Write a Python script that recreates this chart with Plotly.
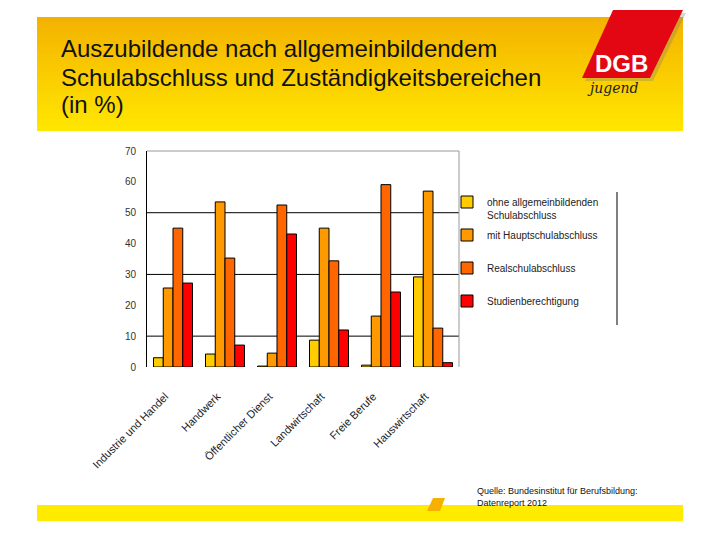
import plotly.graph_objects as go

categories = ["Industrie und Handel", "Handwerk", "Öffentlicher Dienst",
              "Landwirtschaft", "Freie Berufe", "Hauswirtschaft"]
series_names = ["ohne allgemeinbildenden<br>Schulabschluss", "mit Hauptschulabschluss<br>\u00a0",
                "Realschulabschluss<br>\u00a0", "Studienberechtigung<br>\u00a0"]
ohne = [3.0, 4.2, 0.3, 8.7, 0.6, 29.2]
haupt = [25.6, 53.5, 4.5, 45.0, 16.5, 57.0]
real = [45.0, 35.3, 52.5, 34.4, 59.1, 12.6]
studien = [27.2, 7.1, 43.1, 12.0, 24.3, 1.4]
y_ticks = [0, 10, 20, 30, 40, 50, 60, 70]
colors = ["#FFCC00", "#FF9900", "#FF6600", "#FF0000"]

OFF = 8  # page body margin
W, H = 720 - OFF, 540 - OFF
# plot area in page pixels
PL, PR, PT, PB = 147, 459, 151, 367
L, R, T, B = PL - OFF, PR - OFF, PT - OFF, PB - OFF


def px(x):
    return (x - PL) / (PR - PL)


def py(y):
    return (PB - y) / (PB - PT)


fig = go.Figure()
for i, (name, vals) in enumerate(zip(series_names, [ohne, haupt, real, studien])):
    fig.add_trace(go.Bar(
        x=categories, y=vals, name=name, legendgroup=f"g{i}",
        marker=dict(color=colors[i], line=dict(color="black", width=1)),
    ))

shapes = []
# banner gradient
top_c = (244, 178, 0)
bot_c = (255, 230, 0)
n = 38
y0, y1 = 17, 131
for k in range(n):
    t = k / (n - 1)
    c = tuple(int(round(a + (b - a) * t)) for a, b in zip(top_c, bot_c))
    ya = y0 + (y1 - y0) * k / n
    yb = min(y1, y0 + (y1 - y0) * (k + 1) / n + 0.6)
    shapes.append(dict(type="rect", xref="paper", yref="paper",
                       x0=px(37), x1=px(683), y0=py(yb), y1=py(ya),
                       fillcolor="rgb(%d,%d,%d)" % c, line=dict(width=0), layer="below"))
# logo shadow + red parallelogram
shapes.append(dict(type="path", xref="paper", yref="paper",
                   path="M %f %f L %f %f L %f %f L %f %f Z" % (
                       px(616), py(13), px(686), py(13), px(653), py(81), px(585), py(81)),
                   fillcolor="rgba(120,120,120,0.3)", line=dict(width=0), layer="below"))
shapes.append(dict(type="path", xref="paper", yref="paper",
                   path="M %f %f L %f %f L %f %f L %f %f Z" % (
                       px(613), py(10), px(683), py(10), px(650), py(78), px(582), py(78)),
                   fillcolor="#E30613", line=dict(width=0), layer="below"))
# bottom yellow bar + small orange parallelogram
shapes.append(dict(type="rect", xref="paper", yref="paper",
                   x0=px(37), x1=px(683), y0=py(521), y1=py(505),
                   fillcolor="#FFEB00", line=dict(width=0), layer="below"))
shapes.append(dict(type="path", xref="paper", yref="paper",
                   path="M %f %f L %f %f L %f %f L %f %f Z" % (
                       px(433), py(498), px(445), py(498), px(440), py(511), px(427), py(511)),
                   fillcolor="#F5B000", line=dict(width=0), layer="below"))
# gridlines at 10, 30, 50
for gv in [10, 30, 50]:
    shapes.append(dict(type="line", xref="paper", yref="y", x0=0, x1=1, y0=gv, y1=gv,
                       line=dict(color="black", width=1), layer="below"))
# plot frame top & right (gray)
shapes.append(dict(type="line", xref="paper", yref="paper", x0=0, x1=1, y0=1, y1=1,
                   line=dict(color="#999999", width=1)))
shapes.append(dict(type="line", xref="paper", yref="paper", x0=1, x1=1, y0=0, y1=1,
                   line=dict(color="#999999", width=1)))
# legend right border
shapes.append(dict(type="line", xref="paper", yref="paper", x0=px(617), x1=px(617),
                   y0=py(325), y1=py(192), line=dict(color="black", width=1)))

title_lines = ["Auszubildende nach allgemeinbildendem",
               "Schulabschluss und Zuständigkeitsbereichen",
               "(in %)"]
title_y = [49, 77, 105]
annotations = []
for txt, yy in zip(title_lines, title_y):
    annotations.append(dict(text=txt, xref="paper", yref="paper", x=px(59), y=py(yy),
                            xanchor="left", yanchor="middle", align="left", showarrow=False,
                            font=dict(family="Liberation Sans, Arial", size=24, color="#111111")))
annotations += [
    dict(text="<b>DGB</b>", xref="paper", yref="paper", x=px(621), y=py(63),
         xanchor="center", yanchor="middle", showarrow=False,
         font=dict(family="Liberation Sans, Arial", size=24, color="white")),
    dict(text="<i>jugend</i>", xref="paper", yref="paper", x=px(613), y=py(88),
         xanchor="center", yanchor="middle", showarrow=False,
         font=dict(family="DejaVu Serif", size=14, color="#222222")),
    dict(text="Quelle: Bundesinstitut für Berufsbildung:<br>Datenreport 2012",
         xref="paper", yref="paper", x=px(475), y=py(484), xanchor="left", yanchor="top",
         align="left", showarrow=False,
         font=dict(family="Liberation Sans, Arial", size=9, color="#111111")),
]

fig.update_layout(
    width=W, height=H,
    margin=dict(l=L, r=W - R, t=T, b=H - B, pad=0),
    paper_bgcolor="white", plot_bgcolor="rgba(0,0,0,0)",
    barmode="group", bargap=0.25, bargroupgap=0,
    font=dict(family="Liberation Sans, Arial", color="#222222"),
    showlegend=True,
    legend=dict(x=px(447), y=py(189), xanchor="left", yanchor="top",
                traceorder="grouped", tracegroupgap=4, valign="top",
                font=dict(size=10, color="#222222"), bgcolor="rgba(0,0,0,0)",
                itemwidth=30),
    shapes=shapes, annotations=annotations,
)
fig.update_xaxes(showline=False, showgrid=False, tickangle=-45, ticks="",
                 tickmode="array", tickvals=[i - 0.15 for i in range(len(categories))],
                 ticktext=categories, range=[-0.5, len(categories) - 0.5],
                 tickfont=dict(size=11, color="#222222"), ticklabelstandoff=20)
fig.update_yaxes(range=[0, 70], tickvals=y_ticks, showgrid=False, showline=True,
                 linecolor="black", linewidth=1, ticks="", zeroline=False,
                 tickfont=dict(size=10, color="#333333"), ticklabelstandoff=8)

fig.write_html("out.html")
